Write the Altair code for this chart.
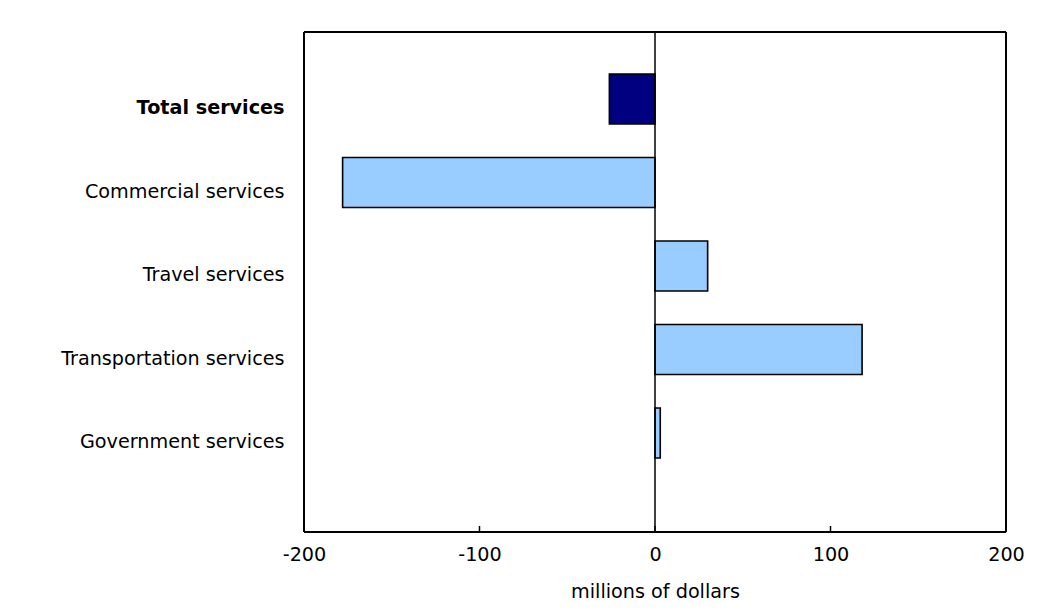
import altair as alt
import pandas as pd

categories = ["Total services", "Commercial services", "Travel services",
              "Transportation services", "Government services"]
values = [-26, -178, 30, 118, 3]
kinds = ["total", "component", "component", "component", "component"]
tick_values = [-200, -100, 0, 100, 200]
x_domain = [-200, 200]

df = pd.DataFrame({"category": categories, "value": values, "kind": kinds})
ticks_df = pd.DataFrame({"t": tick_values})
edges_df = pd.DataFrame({"e": x_domain})
span_df = pd.DataFrame({"a": [x_domain[0]], "b": [x_domain[1]]})

W, H = 702, 500
FONT = "DejaVu Sans"
FS = 19.2

xscale = alt.Scale(domain=x_domain, nice=False)
xaxis = alt.Axis(values=tick_values, title="millions of dollars", ticks=False,
                 domain=False, grid=False, labelPadding=13, labelFontSize=FS,
                 labelFont=FONT, labelColor="black", titleFont=FONT,
                 titleFontSize=FS, titleFontWeight="normal", titleColor="black",
                 titlePadding=18, labelFlush=False, labelExpr="'' + datum.value")
yscale = alt.Scale(domain=categories, paddingInner=0.4, paddingOuter=0.694, align=0.362)

bars = alt.Chart(df).mark_bar(stroke="black", strokeWidth=1.6).encode(
    x=alt.X("value:Q", scale=xscale, axis=xaxis, title="millions of dollars"),
    x2=alt.datum(0),
    y=alt.Y("category:N", scale=yscale, sort=categories,
            axis=alt.Axis(title=None, ticks=False, domain=False, labelPadding=20,
                          labelFontSize=FS, labelFont=FONT, labelColor="black",
                          labelOffset=9,
                          labelFontWeight=alt.expr("datum.value == 'Total services' ? 'bold' : 'normal'"),
                          minExtent=296, maxExtent=296, labelLimit=400)),
    color=alt.Color("kind:N", scale=alt.Scale(domain=["total", "component"],
                                               range=["#000080", "#99CCFF"]), legend=None),
)

zero = alt.Chart(pd.DataFrame({"z": [0]})).mark_rule(color="black", strokeWidth=1.5).encode(
    x=alt.X("z:Q", scale=xscale, axis=xaxis, title="millions of dollars"),
    y=alt.value(0), y2=alt.value(H)
)

ticks = alt.Chart(ticks_df).mark_rule(color="black", strokeWidth=1.5).encode(
    x=alt.X("t:Q", scale=xscale, axis=xaxis, title="millions of dollars"),
    y=alt.value(H - 6), y2=alt.value(H)
)

vframe = alt.Chart(edges_df).mark_rule(color="black", strokeWidth=2).encode(
    x=alt.X("e:Q", scale=xscale, axis=xaxis, title="millions of dollars"),
    y=alt.value(0), y2=alt.value(H)
)
hframe = alt.Chart(span_df).mark_rule(color="black", strokeWidth=2).encode(
    x=alt.X("a:Q", scale=xscale, axis=xaxis, title="millions of dollars"),
    x2="b:Q", y=alt.value(0)
)
hframe_b = alt.Chart(span_df).mark_rule(color="black", strokeWidth=2).encode(
    x=alt.X("a:Q", scale=xscale, axis=xaxis, title="millions of dollars"),
    x2="b:Q", y=alt.value(H)
)

chart = alt.layer(bars, zero, ticks, vframe, hframe, hframe_b).properties(
    width=W, height=H,
    padding={"left": 0, "top": 23, "right": 2, "bottom": 0},
).configure_view(stroke=None).configure(background="white")

chart.save("out.html", embed_options={"renderer": "svg", "actions": False})
